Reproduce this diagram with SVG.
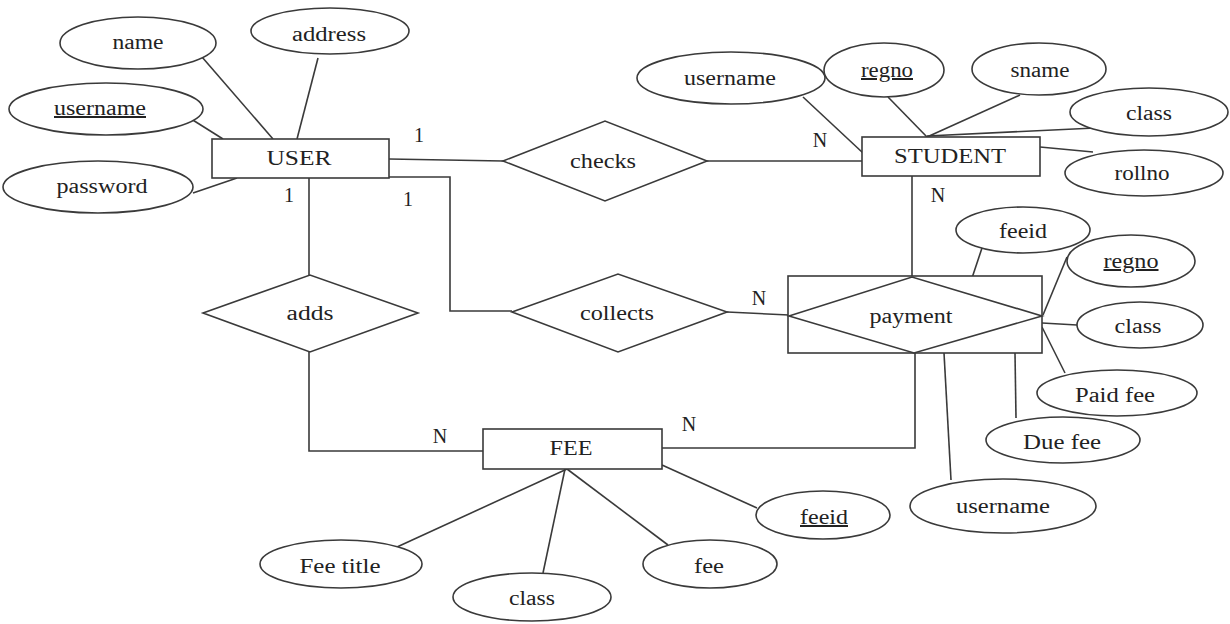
<svg xmlns="http://www.w3.org/2000/svg" width="1230" height="624" viewBox="0 0 1230 624">
<style>
.s{fill:#fff;stroke:#3a3a3a;stroke-width:1.6}
.c{fill:none;stroke:#3a3a3a;stroke-width:1.6}
text{font-family:"Liberation Serif","Times New Roman",serif;font-size:20px;fill:#222;text-anchor:middle}
.u{text-decoration:underline}
</style>
<rect width="1230" height="624" fill="#fff"/>
<g id="connectors" class="c">
<line x1="202" y1="57" x2="273" y2="139"/>
<line x1="318" y1="58" x2="297" y2="139"/>
<line x1="188" y1="117" x2="223" y2="139"/>
<line x1="193" y1="193" x2="237" y2="178"/>
<line x1="389" y1="159" x2="503" y2="161"/>
<line x1="707" y1="161" x2="862" y2="161"/>
<polyline points="389,177 450,177 450,311 512,311"/>
<line x1="309" y1="178" x2="309" y2="275"/>
<polyline points="309,352 309,451 483,451"/>
<line x1="727" y1="312" x2="789" y2="315"/>
<line x1="912" y1="176" x2="912" y2="277"/>
<polyline points="915,353 915,448 662,448"/>
<line x1="803" y1="97" x2="863" y2="153"/>
<line x1="888" y1="97" x2="927" y2="137"/>
<line x1="1020" y1="95" x2="927" y2="137"/>
<line x1="927" y1="136" x2="1095" y2="128"/>
<line x1="1040" y1="147" x2="1093" y2="152"/>
<line x1="983" y1="245" x2="972" y2="278"/>
<line x1="1067" y1="257" x2="1043" y2="315"/>
<line x1="1042" y1="323" x2="1077" y2="325"/>
<line x1="1042" y1="327" x2="1065" y2="373"/>
<line x1="1015" y1="353" x2="1016" y2="418"/>
<line x1="944" y1="353" x2="951" y2="480"/>
<line x1="567" y1="469" x2="397" y2="547"/>
<line x1="565" y1="469" x2="543" y2="573"/>
<line x1="567" y1="469" x2="668" y2="545"/>
<line x1="662" y1="465" x2="757" y2="508"/>
</g>
<g id="labels">
<text x="419" y="142">1</text>
<text x="289" y="202">1</text>
<text x="408" y="206">1</text>
<text x="820" y="147">N</text>
<text x="938" y="202">N</text>
<text x="759" y="305">N</text>
<text x="440" y="443">N</text>
<text x="689" y="431">N</text>
</g>
<g id="user">
<rect class="s" x="212" y="139" width="177" height="39"/>
<text x="299" y="165" textLength="65" lengthAdjust="spacingAndGlyphs">USER</text>
</g>
<g id="user-name"><ellipse class="s" cx="138" cy="43" rx="78" ry="26"/><text x="138" y="49" textLength="51" lengthAdjust="spacingAndGlyphs">name</text></g>
<g id="user-address"><ellipse class="s" cx="330" cy="31" rx="79" ry="23"/><text x="329" y="41" textLength="74" lengthAdjust="spacingAndGlyphs">address</text></g>
<g id="user-username"><ellipse class="s" cx="106" cy="109" rx="97" ry="26"/><text class="u" x="100" y="115" textLength="92" lengthAdjust="spacingAndGlyphs">username</text></g>
<g id="user-password"><ellipse class="s" cx="98" cy="187" rx="95" ry="26"/><text x="102" y="193" textLength="91" lengthAdjust="spacingAndGlyphs">password</text></g>
<g id="checks">
<polygon class="s" points="503,161 605,121 707,161 605,201"/>
<text x="603" y="168" textLength="66" lengthAdjust="spacingAndGlyphs">checks</text>
</g>
<g id="student">
<rect class="s" x="862" y="137" width="178" height="39"/>
<text x="950" y="163" textLength="112" lengthAdjust="spacingAndGlyphs">STUDENT</text>
</g>
<g id="student-username"><ellipse class="s" cx="731" cy="78" rx="94" ry="26"/><text x="730" y="85" textLength="92" lengthAdjust="spacingAndGlyphs">username</text></g>
<g id="student-regno"><ellipse class="s" cx="884" cy="70" rx="60" ry="27"/><text class="u" x="887" y="77" textLength="52" lengthAdjust="spacingAndGlyphs">regno</text></g>
<g id="student-sname"><ellipse class="s" cx="1039" cy="69" rx="67" ry="26"/><text x="1040" y="77" textLength="59" lengthAdjust="spacingAndGlyphs">sname</text></g>
<g id="student-class"><ellipse class="s" cx="1149" cy="112" rx="79" ry="24"/><text x="1149" y="120" textLength="46" lengthAdjust="spacingAndGlyphs">class</text></g>
<g id="student-rollno"><ellipse class="s" cx="1144" cy="173" rx="79" ry="23"/><text x="1142" y="180" textLength="55" lengthAdjust="spacingAndGlyphs">rollno</text></g>
<g id="adds">
<polygon class="s" points="203,313 310,275 418,313 310,352"/>
<text x="310" y="320" textLength="47" lengthAdjust="spacingAndGlyphs">adds</text>
</g>
<g id="collects">
<polygon class="s" points="512,312 618,274 727,312 618,352"/>
<text x="617" y="320" textLength="74" lengthAdjust="spacingAndGlyphs">collects</text>
</g>
<g id="payment">
<rect class="s" x="788" y="276" width="254" height="77"/>
<polygon class="s" points="789,316 912,277 1042,316 914,353"/>
<text x="911" y="323" textLength="83" lengthAdjust="spacingAndGlyphs">payment</text>
</g>
<g id="payment-feeid"><ellipse class="s" cx="1023" cy="230" rx="67" ry="23"/><text x="1023" y="238" textLength="48" lengthAdjust="spacingAndGlyphs">feeid</text></g>
<g id="payment-regno"><ellipse class="s" cx="1131" cy="261" rx="64" ry="26"/><text class="u" x="1131" y="268" textLength="55" lengthAdjust="spacingAndGlyphs">regno</text></g>
<g id="payment-class"><ellipse class="s" cx="1140" cy="325" rx="63" ry="23"/><text x="1138" y="333" textLength="47" lengthAdjust="spacingAndGlyphs">class</text></g>
<g id="payment-paidfee"><ellipse class="s" cx="1117" cy="393" rx="80" ry="23"/><text x="1115" y="402" textLength="80" lengthAdjust="spacingAndGlyphs">Paid fee</text></g>
<g id="payment-duefee"><ellipse class="s" cx="1063" cy="440" rx="77" ry="23"/><text x="1062" y="449" textLength="78" lengthAdjust="spacingAndGlyphs">Due fee</text></g>
<g id="payment-username"><ellipse class="s" cx="1003" cy="506" rx="93" ry="27"/><text x="1003" y="513" textLength="94" lengthAdjust="spacingAndGlyphs">username</text></g>
<g id="fee">
<rect class="s" x="483" y="429" width="179" height="40"/>
<text x="571" y="455" textLength="43" lengthAdjust="spacingAndGlyphs">FEE</text>
</g>
<g id="fee-title"><ellipse class="s" cx="341" cy="564" rx="81" ry="24"/><text x="340" y="573" textLength="81" lengthAdjust="spacingAndGlyphs">Fee title</text></g>
<g id="fee-class"><ellipse class="s" cx="532" cy="597" rx="79" ry="24"/><text x="532" y="605" textLength="46" lengthAdjust="spacingAndGlyphs">class</text></g>
<g id="fee-fee"><ellipse class="s" cx="710" cy="564" rx="67" ry="24"/><text x="709" y="573" textLength="30" lengthAdjust="spacingAndGlyphs">fee</text></g>
<g id="fee-feeid"><ellipse class="s" cx="823" cy="515" rx="67" ry="24"/><text class="u" x="824" y="524" textLength="48" lengthAdjust="spacingAndGlyphs">feeid</text></g>
</svg>
